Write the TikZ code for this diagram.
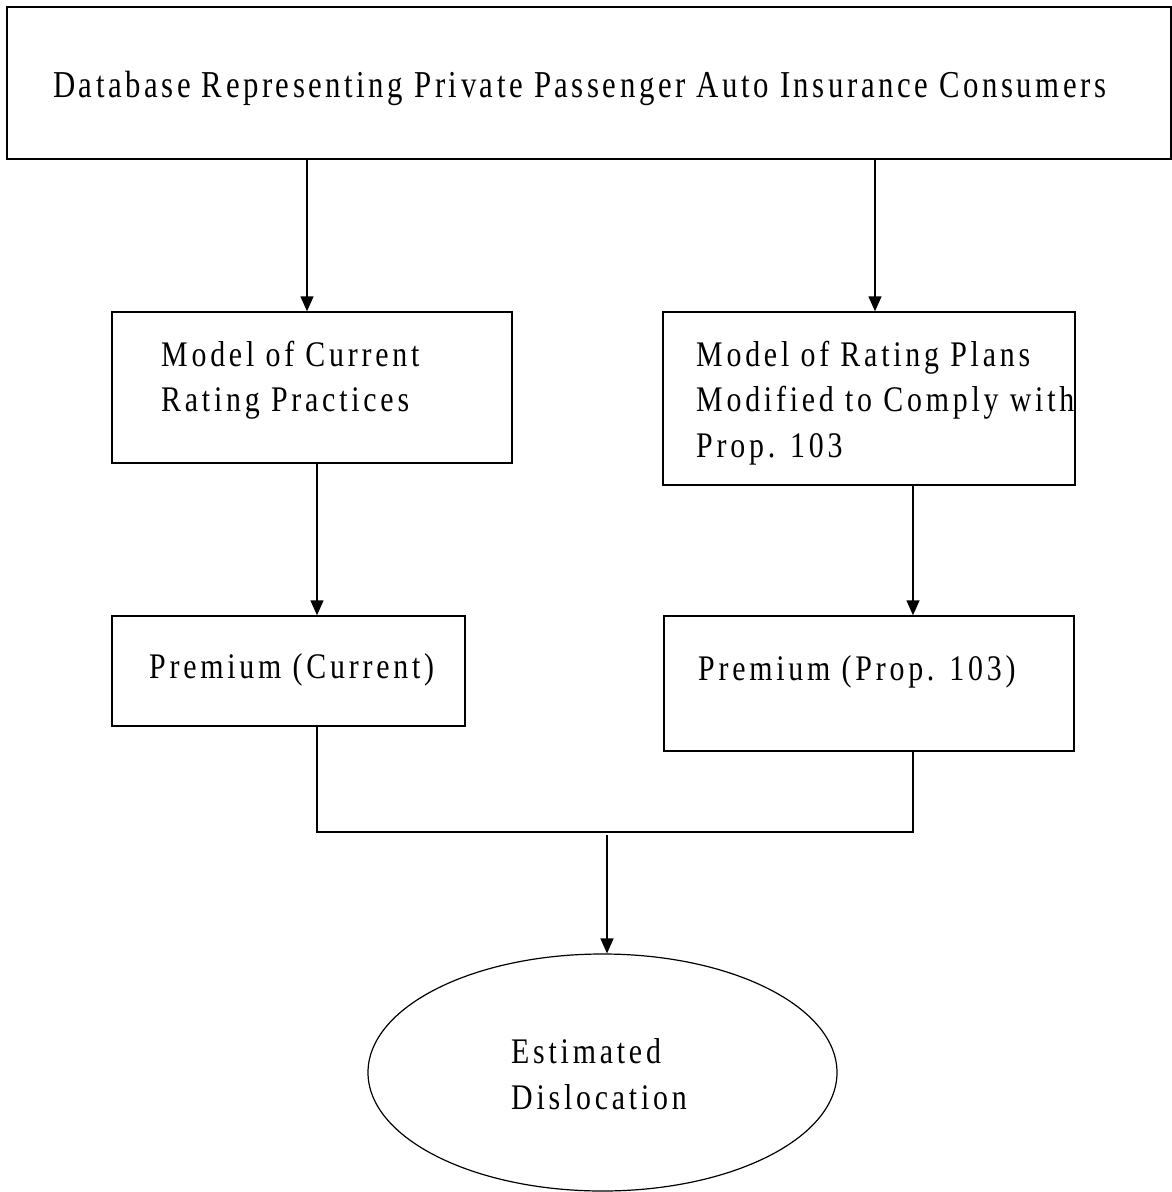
\documentclass[tikz,border=0pt]{standalone}
\usepackage{fontspec}
\setmainfont{Liberation Serif}
\newfontfamily\boxfont[FakeStretch=0.83,LetterSpace=10.5]{Liberation Serif}
\newfontfamily\headfont[FakeStretch=0.81,LetterSpace=9.3]{Liberation Serif}
\usetikzlibrary{arrows.meta,shapes.geometric}

\begin{document}
\begin{tikzpicture}[x=1pt,y=-1pt,
  box/.style={draw,line width=1.4pt,rectangle,inner sep=0pt},
  lbl/.style={anchor=base west,inner sep=0pt,font=\boxfont\fontsize{36}{42}\selectfont},
  headlbl/.style={lbl,font=\headfont\fontsize{38}{44}\selectfont},
  link/.style={line width=1.4pt},
  arr/.style={link,-{Triangle[width=13pt,length=15pt]}}]
\useasboundingbox (0,0) rectangle (1172,1192);

% boxes
\node[box,minimum width=1164pt,minimum height=152pt] (db) at (589,83) {};
\node[box,minimum width=400pt,minimum height=151pt] (cur) at (312,387.5) {};
\node[box,minimum width=412pt,minimum height=173pt] (mod) at (869,398.5) {};
\node[box,minimum width=353pt,minimum height=110pt] (pcur) at (288.5,671) {};
\node[box,minimum width=410pt,minimum height=135pt] (pmod) at (869,683.5) {};
\node[draw,line width=1.2pt,ellipse,inner sep=0pt,minimum width=469pt,minimum height=237pt] (dis) at (602.5,1072.5) {};

% texts
\node[headlbl] (tdb) at (53,97) {Database Representing Private Passenger Auto Insurance Consumers};
\node[lbl] (tcur1) at (161,366) {Model of Current};
\node[lbl] (tcur2) at (161,411) {Rating Practices};
\node[lbl] (tmod1) at (696,366) {Model of Rating Plans};
\node[lbl] (tmod2) at (696,411) {Modified to Comply with};
\node[lbl] (tmod3) at (696,457) {Prop. 103};
\node[lbl] (tpcur) at (149,678) {Premium (Current)};
\node[lbl] (tpmod) at (698,680) {Premium (Prop. 103)};
\node[lbl] (tdis1) at (511,1063) {Estimated};
\node[lbl] (tdis2) at (511,1109) {Dislocation};

% connector columns
\coordinate (xl) at (307,0);
\coordinate (xr) at (875,0);
\coordinate (xcl) at (317,0);
\coordinate (xcr) at (913,0);
\coordinate (jl) at (317,832);
\coordinate (jr) at (913,832);
\coordinate (jm) at (607,835);

\draw[arr] (db.south -| xl) -- (cur.north -| xl);
\draw[arr] (db.south -| xr) -- (mod.north -| xr);
\draw[arr] (cur.south -| xcl) -- (pcur.north -| xcl);
\draw[arr] (mod.south -| xcr) -- (pmod.north -| xcr);
\draw[link] (pcur.south -| xcl) -- (jl) -- (jr) -- (pmod.south -| xcr);
\draw[arr] (jm) -- (jm |- dis.north);
\end{tikzpicture}
\end{document}
